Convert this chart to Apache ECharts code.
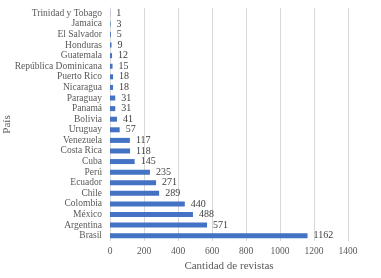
<!DOCTYPE html>
<html><head><meta charset="utf-8">
<script src="https://cdn.jsdelivr.net/npm/echarts@6/dist/echarts.min.js"></script>
<style>html,body{margin:0;padding:0;background:#fff}#c{width:381px;height:278px}</style>
</head><body><div id="c"></div>
<script>
const categories = ["Brasil","Argentina","México","Colombia","Chile","Ecuador","Perú","Cuba","Costa Rica","Venezuela","Uruguay","Bolivia","Panamá","Paraguay","Nicaragua","Puerto Rico","República Dominicana","Guatemala","Honduras","El Salvador","Jamaica","Trinidad y Tobago"];
const values = [1162,571,488,440,289,271,235,145,118,117,57,41,31,31,18,18,15,12,9,5,3,1];
const xTicks = [0,200,400,600,800,1000,1200,1400];
const chart = echarts.init(document.getElementById('c'));
const font = "'Liberation Serif', serif";
chart.setOption({
  animation:false,
  grid:{left:110,right:33,top:8,bottom:37,containLabel:false,outerBoundsMode:'none'},
  xAxis:{type:'value',min:xTicks[0],max:xTicks[xTicks.length-1],interval:200,
    name:'Cantidad de revistas',nameLocation:'middle',nameGap:20,nameMoveOverlap:false,
    nameTextStyle:{fontFamily:font,fontSize:11,color:'#595959'},
    axisLabel:{fontFamily:font,fontSize:9.5,color:'#595959',margin:5,formatter:v=>String(v)},
    axisLine:{show:false},axisTick:{show:false},
    splitLine:{lineStyle:{color:'#d9d9d9',width:1}}},
  yAxis:{type:'category',data:categories,
    name:'País',nameLocation:'middle',nameGap:97,nameRotate:90,nameMoveOverlap:false,
    nameTextStyle:{fontFamily:font,fontSize:11,color:'#595959'},
    axisLabel:{fontFamily:font,fontSize:9.5,color:'#595959',margin:8,interval:0},
    axisLine:{show:true,lineStyle:{color:'#d9d9d9'}},axisTick:{show:false}},
  series:[{type:'bar',data:values,barWidth:5,itemStyle:{color:'#4472c4'},
    label:{show:true,position:'right',distance:6,fontFamily:font,fontSize:10,color:'#404040'}}]
});
</script></body></html>
